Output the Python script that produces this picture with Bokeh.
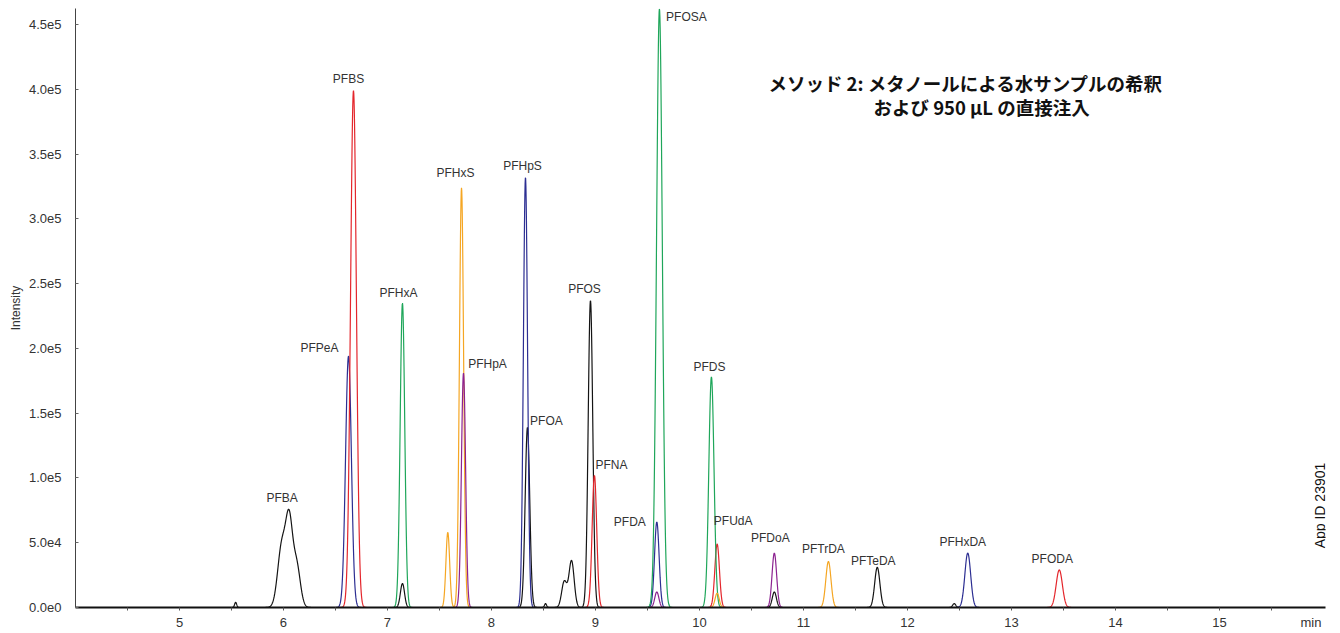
import math
import numpy as np
from bokeh.plotting import figure
from bokeh.models import FixedTicker, Label, ColumnDataSource
from bokeh.core.properties import value
from bokeh.embed import file_html
from bokeh.resources import INLINE

# ---------------- data ----------------
# retention time (min), apex intensity, peak width (sigma, min), trace, label
peak_trace = ["black", "black", "black", "black",
              "blue", "red", "green", "black",
              "orange", "orange", "purple",
              "blue", "black", "black", "black", "black", "black", "red",
              "blue", "purple", "green",
              "green", "red", "orange",
              "purple", "black", "orange", "black",
              "black", "blue", "red"]
peak_rt = [5.54, 5.985, 6.055, 6.125,
           6.625, 6.673, 7.144, 7.144,
           7.58, 7.712, 7.731,
           8.327, 8.346, 8.52, 8.70, 8.77, 8.952, 8.99,
           9.59, 9.59, 9.615,
           10.115, 10.17, 10.17,
           10.72, 10.72, 11.24, 11.71,
           12.45, 12.58, 13.46]
peak_height = [4.0e3, 4.8e4, 6.0e4, 3.3e4,
               1.94e5, 3.99e5, 2.35e5, 1.85e4,
               5.8e4, 3.24e5, 1.81e5,
               3.32e5, 1.39e5, 3.0e3, 2.0e4, 3.6e4, 2.37e5, 1.02e5,
               6.6e4, 1.2e4, 4.62e5,
               1.78e5, 4.9e4, 1.1e4,
               4.2e4, 1.2e4, 3.55e4, 3.1e4,
               3.0e3, 4.2e4, 2.9e4]
peak_sigma = [0.010, 0.040, 0.032, 0.036,
              0.028, 0.028, 0.022, 0.020,
              0.018, 0.020, 0.020,
              0.020, 0.022, 0.010, 0.025, 0.025, 0.022, 0.022,
              0.022, 0.020, 0.028,
              0.025, 0.022, 0.020,
              0.022, 0.020, 0.025, 0.025,
              0.015, 0.028, 0.030]
peak_label = ["", "", "PFBA", "",
              "PFPeA", "PFBS", "PFHxA", "",
              "", "PFHxS", "PFHpA",
              "PFHpS", "PFOA", "", "", "", "PFOS", "PFNA",
              "PFDA", "", "PFOSA",
              "PFDS", "PFUdA", "",
              "PFDoA", "", "PFTrDA", "PFTeDA",
              "", "PFHxDA", "PFODA"]

x_ticks = [5, 6, 7, 8, 9, 10, 11, 12, 13, 14, 15]
x_unit = "min"
x_unit_pos = 15.88
y_ticks = [0, 50000, 100000, 150000, 200000, 250000, 300000, 350000, 400000, 450000]
y_tick_labels = ["0.0e0", "5.0e4", "1.0e5", "1.5e5", "2.0e5", "2.5e5",
                 "3.0e5", "3.5e5", "4.0e5", "4.5e5"]

title_lines = ["メソッド 2: メタノールによる水サンプルの希釈", "および 950 μL の直接注入"]
app_id = "App ID 23901"

# ---------------- styles / layout ----------------
TRACE_COLORS = {
    "black": "#141414",
    "blue": "#2C2E92",
    "red": "#E4262C",
    "green": "#1FA65A",
    "orange": "#F5A623",
    "purple": "#8C2290",
}
# label offsets (screen px) from the peak apex (dx right, dy up)
LABEL_OFFSETS = {
    "PFBA": (-7, 12), "PFPeA": (-29, 8), "PFBS": (-5, 12), "PFHxA": (-4, 10),
    "PFHxS": (-6, 15), "PFHpA": (24, 9), "PFHpS": (-3, 12), "PFOA": (19, 6),
    "PFOS": (-6, 12), "PFNA": (17, 10), "PFDA": (-27, 0), "PFOSA": (27, -8),
    "PFDS": (-2, 10), "PFUdA": (16, 23), "PFDoA": (-4, 15), "PFTrDA": (-5, 13),
    "PFTeDA": (-4, 6), "PFHxDA": (-5, 11), "PFODA": (-7, 11),
}
FONT = "Liberation Sans"

W, H = 1336, 632
p = figure(width=W, height=H, x_range=(4.0, 16.02), y_range=(0, 4.623e5),
           output_backend="svg", toolbar_location=None,
           min_border_left=75, min_border_right=W - 1325, min_border_top=8,
           min_border_bottom=25)
p.outline_line_color = None
p.xgrid.visible = False
p.ygrid.visible = False
p.background_fill_color = "white"

# traces
x = np.linspace(5.1, 16.0, 4400)
traces = {}
for key in TRACE_COLORS:
    y = np.zeros_like(x)
    for t, rt, h, s in zip(peak_trace, peak_rt, peak_height, peak_sigma):
        if t == key:
            y += h * np.exp(-0.5 * ((x - rt) / s) ** 2)
    traces[key] = y
    p.line(x, y, line_color=TRACE_COLORS[key], line_width=1.2)

# peak labels, anchored at the trace apex
lx, ly, lt, ox, oy = [], [], [], [], []
for t, rt, lab in zip(peak_trace, peak_rt, peak_label):
    if not lab:
        continue
    apex = float(np.interp(rt, x, traces[t]))
    dx, dy = LABEL_OFFSETS[lab]
    lx.append(rt)
    ly.append(apex)
    lt.append(lab)
    ox.append(dx)
    oy.append(-dy)
src = ColumnDataSource(dict(x=lx, y=ly, text=lt, ox=ox, oy=oy))
p.text(x="x", y="y", text="text", x_offset="ox", y_offset="oy", source=src,
       text_font=value(FONT), text_font_size="12px", text_color="#333333",
       text_align="center", text_baseline="middle")

# axes
xa = p.xaxis[0]
xa.ticker = FixedTicker(ticks=x_ticks + [x_unit_pos],
                        minor_ticks=sorted(x_ticks + [v + 0.5 for v in [4] + x_ticks]))
xa.major_label_overrides = {x_unit_pos: x_unit}
xa.axis_line_width = 2
xa.axis_line_color = "#111111"
xa.major_tick_line_color = None
xa.major_tick_out = 4
xa.major_tick_in = 0
xa.minor_tick_out = 3
xa.minor_tick_in = 0
xa.minor_tick_line_color = "#555555"
xa.major_label_standoff = 3
xa.major_label_text_font = FONT
xa.major_label_text_font_size = "13px"
xa.major_label_text_color = "#333333"

ya = p.yaxis[0]
ya.ticker = FixedTicker(ticks=y_ticks, minor_ticks=[])
ya.major_label_overrides = {v: s for v, s in zip(y_ticks, y_tick_labels)}
ya.axis_line_color = "#444444"
ya.axis_line_width = 1
ya.major_tick_in = 3
ya.major_tick_out = 0
ya.major_tick_line_color = "#666666"
ya.major_label_standoff = 14
ya.major_label_text_font = FONT
ya.major_label_text_font_size = "13px"
ya.major_label_text_color = "#333333"
ya.axis_label = "Intensity"
ya.axis_label_text_font = FONT
ya.axis_label_text_font_size = "12px"
ya.axis_label_text_font_style = "normal"
ya.axis_label_text_color = "#333333"
ya.axis_label_standoff = 3

# title (two lines)
p.add_layout(Label(x=10.663, y=4.05e5, text=title_lines[0],
                   text_font="Noto Sans CJK JP", text_font_style="bold",
                   text_font_size="18.5px", text_color="#111111",
                   text_align="left", text_baseline="middle"))
p.add_layout(Label(x=11.673, y=3.866e5, text=title_lines[1],
                   text_font="Noto Sans CJK JP", text_font_style="bold",
                   text_font_size="18.5px", text_color="#111111",
                   text_align="left", text_baseline="middle"))

# App ID (vertical)
p.add_layout(Label(x=15.97, y=7.87e4, text=app_id, angle=math.pi / 2,
                   text_font=FONT, text_font_size="14px", text_color="#111111",
                   text_align="center", text_baseline="middle"))

open("out.html", "w").write(file_html(p, INLINE))
